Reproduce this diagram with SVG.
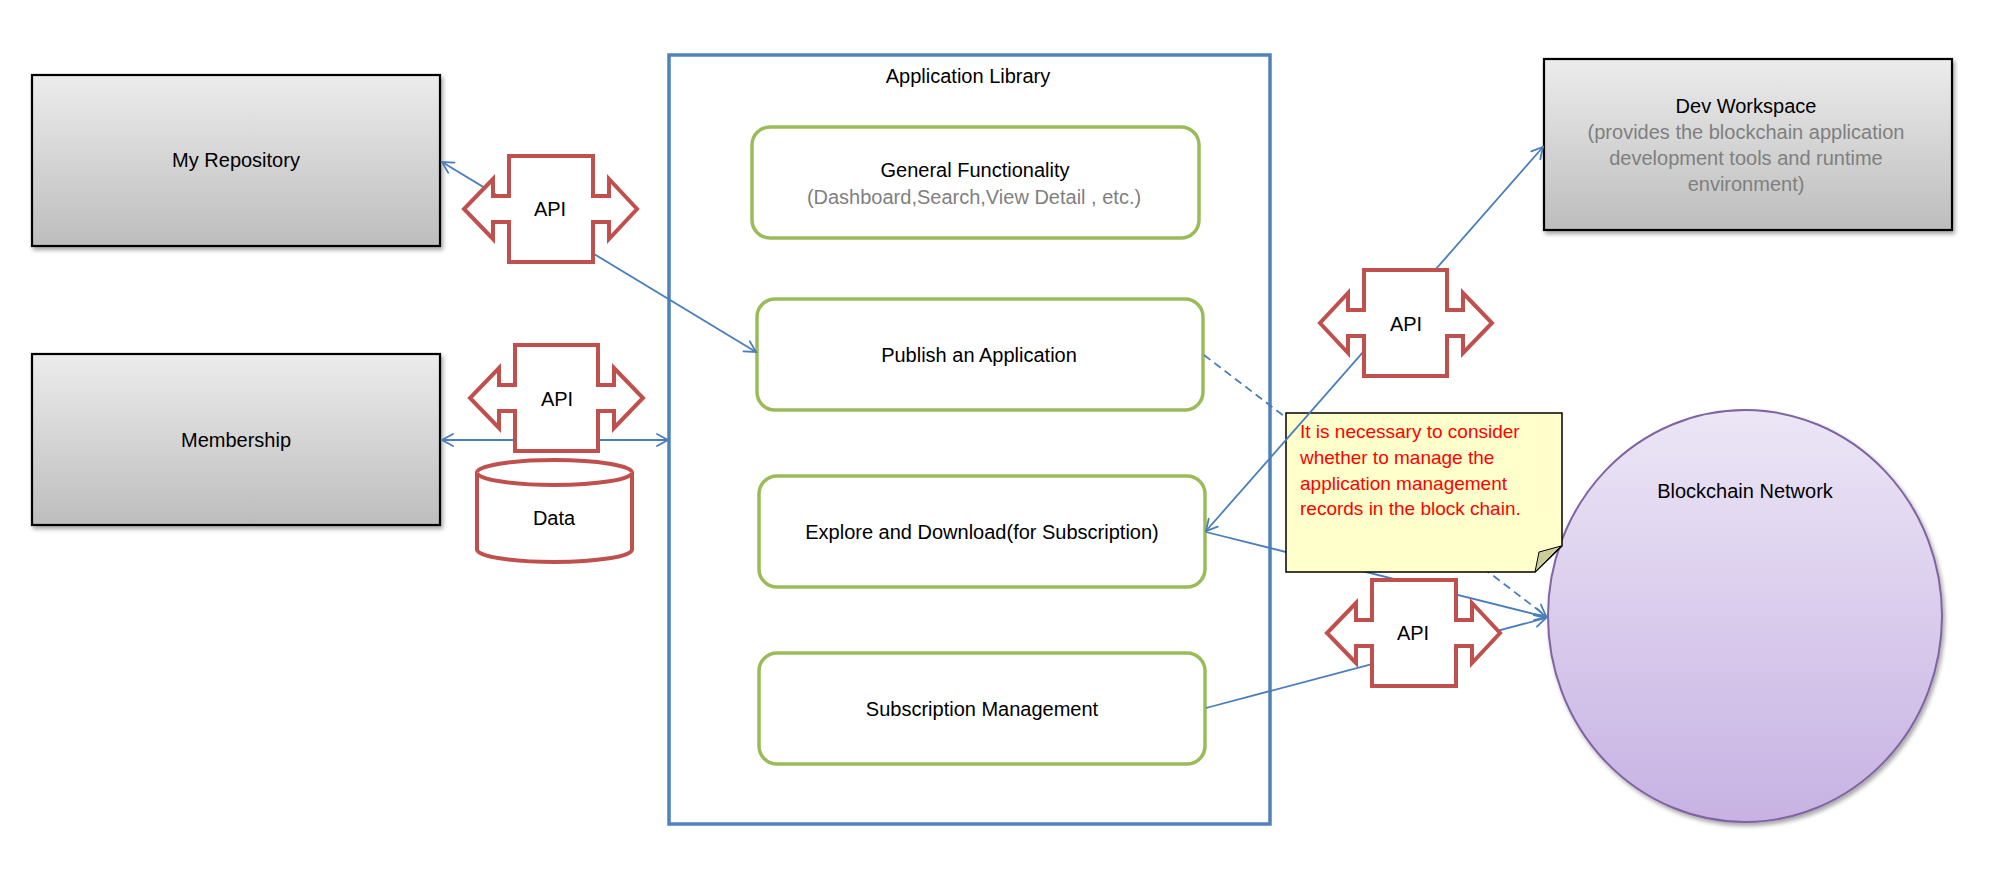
<svg xmlns="http://www.w3.org/2000/svg" width="2005" height="888" viewBox="0 0 2005 888">
<style>
text{font-family:"Liberation Sans",Arial,sans-serif;font-size:20px;fill:#000}
.c{text-anchor:middle}
.grey{fill:#7f7f7f}
.red{fill:#ff0000;font-size:19px}
.box{fill:url(#gGrey);stroke:#000;stroke-width:2.2;filter:url(#sh)}
.grn{fill:#fff;stroke:#9bbb59;stroke-width:3.5}
.api{fill:#fff;stroke:#c0504d;stroke-width:4;stroke-linejoin:miter}
.ln{fill:none;stroke:#4a7ebb;stroke-width:1.8}
.arr2{marker-start:url(#ah);marker-end:url(#ah)}
.arr1{marker-end:url(#ah)}
</style>
<defs>
<linearGradient id="gGrey" x1="0" y1="0" x2="0" y2="1">
<stop offset="0" stop-color="#ececec"/>
<stop offset="1" stop-color="#bdbdbd"/>
</linearGradient>
<linearGradient id="gPurple" x1="0" y1="0" x2="0" y2="1">
<stop offset="0" stop-color="#ece6f6"/>
<stop offset="1" stop-color="#c7b2e3"/>
</linearGradient>
<filter id="sh" x="-10%" y="-10%" width="125%" height="130%">
<feDropShadow dx="2" dy="3" stdDeviation="2.2" flood-color="#000" flood-opacity="0.35"/>
</filter>
<marker id="ah" viewBox="-14 -8 16 16" refX="0" refY="0" markerWidth="16" markerHeight="16" markerUnits="userSpaceOnUse" orient="auto-start-reverse">
<path d="M-11,-6 L0,0 L-11,6" fill="none" stroke="#4a7ebb" stroke-width="1.8" stroke-linecap="round" stroke-linejoin="miter"/>
</marker>
</defs>
<rect width="2005" height="888" fill="#fff"/>

<g id="my-repository">
<rect class="box" x="32" y="75" width="408" height="171"/>
<text class="c" x="236" y="167">My Repository</text>
</g>
<g id="membership">
<rect class="box" x="32" y="354" width="408" height="171"/>
<text class="c" x="236" y="447">Membership</text>
</g>
<g id="data">
<path class="api" d="M477,472.5 A77.5,12.5 0 0 1 632,472.5 V549.5 A77.5,12.5 0 0 1 477,549.5 Z"/>
<path class="api" fill="none" d="M477,472.5 A77.5,12.5 0 0 0 632,472.5"/>
<text class="c" x="554" y="525">Data</text>
</g>

<g id="application-library">
<rect x="669" y="55" width="601" height="769" fill="#fff" stroke="#4f81bd" stroke-width="3.5"/>
<text class="c" x="968" y="83">Application Library</text>
</g>
<g id="general-functionality">
<rect class="grn" x="752" y="127" width="447" height="111" rx="18"/>
<text class="c" x="975" y="177">General Functionality</text>
<text class="c grey" x="974" y="204">(Dashboard,Search,View Detail , etc.)</text>
</g>
<g id="publish-application">
<rect class="grn" x="757" y="299" width="446" height="111" rx="18"/>
<text class="c" x="979" y="362">Publish an Application</text>
</g>
<g id="explore-download">
<rect class="grn" x="759" y="476" width="446" height="111" rx="18"/>
<text class="c" x="982" y="539">Explore and Download(for Subscription)</text>
</g>
<g id="subscription-management">
<rect class="grn" x="759" y="653" width="446" height="111" rx="18"/>
<text class="c" x="982" y="716">Subscription Management</text>
</g>

<g id="dev-workspace">
<rect class="box" x="1544" y="59" width="408" height="171"/>
<text class="c" x="1746" y="113">Dev Workspace</text>
<text class="c grey" x="1746" y="139">(provides the blockchain application</text>
<text class="c grey" x="1746" y="165">development tools and runtime</text>
<text class="c grey" x="1746" y="191">environment)</text>
</g>
<g id="blockchain-network">
<ellipse cx="1745" cy="616" rx="197" ry="206" fill="url(#gPurple)" stroke="#8064a2" stroke-width="2" filter="url(#sh)"/>
<text class="c" x="1745" y="498">Blockchain Network</text>
</g>

<g id="connectors">
<path class="ln arr2" d="M442,162 L756,352"/>
<path class="ln arr2" d="M442,440 L668,440"/>
<path class="ln arr1" d="M1206,532 L1546,617"/>
<path class="ln arr1" d="M1206,708 L1546,618"/>
<path class="ln arr1" stroke-dasharray="8 5" d="M1204,355 L1546,616"/>
</g>

<g id="note">
<path d="M1286,413 H1562 V546 L1535,572 H1286 Z" fill="#ffffcc" stroke="#000" stroke-width="1.5"/>
<path d="M1535,572 L1539,552 L1561,546 Z" fill="#cccc99" stroke="#000" stroke-width="1"/>
<text class="red" x="1300" y="438">It is necessary to consider</text>
<text class="red" x="1300" y="464">whether to manage the</text>
<text class="red" x="1300" y="490">application management</text>
<text class="red" x="1300" y="515">records in the block chain.</text>
</g>

<g id="connectors-over-note">
<path class="ln arr2" d="M1206,531 L1543,147"/>
</g>

<g id="api-1">
<path class="api" d="M509,156 H593 V196 H609 V179 L637,209 L609,239 V222 H593 V262 H509 V222 H493 V239 L464,209 L493,179 V196 H509 Z"/>
<text class="c" x="550" y="216">API</text>
</g>
<g id="api-2">
<path class="api" d="M515,345 H598 V385 H614 V368 L643,398 L614,428 V411 H598 V451 H515 V411 H499 V428 L470,398 L499,368 V385 H515 Z"/>
<text class="c" x="557" y="406">API</text>
</g>
<g id="api-3">
<path class="api" d="M1364,270 H1447 V310 H1463 V293 L1492,323 L1463,353 V336 H1447 V376 H1364 V336 H1348 V353 L1320,323 L1348,293 V310 H1364 Z"/>
<text class="c" x="1406" y="331">API</text>
</g>
<g id="api-4">
<path class="api" d="M1372,580 H1456 V620 H1472 V603 L1500,633 L1472,663 V646 H1456 V686 H1372 V646 H1356 V663 L1327,633 L1356,603 V620 H1372 Z"/>
<text class="c" x="1413" y="640">API</text>
</g>
</svg>
